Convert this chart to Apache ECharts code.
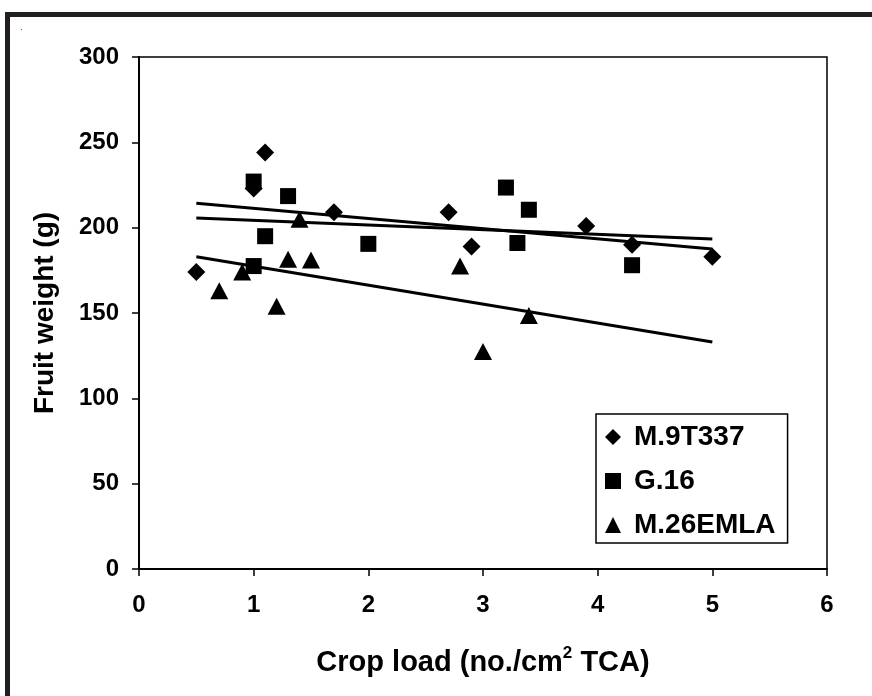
<!DOCTYPE html>
<html>
<head>
<meta charset="utf-8">
<script src="https://cdn.jsdelivr.net/npm/echarts@6/dist/echarts.min.js"></script>
<style>html,body{margin:0;padding:0;background:#fff}#c{width:872px;height:696px}</style>
</head>
<body>
<div id="c"></div>
<script>
// Data
var seriesNames = ['M.9T337', 'G.16', 'M.26EMLA'];
var m9X = [0.5, 1.0, 1.1, 1.7, 2.7, 2.9, 3.9, 4.3, 5.0];
var m9Y = [174, 223, 244, 209, 209, 189, 201, 190, 183];
var g16X = [1.0, 1.0, 1.1, 1.3, 2.0, 3.2, 3.3, 3.4, 4.3];
var g16Y = [227, 177.5, 195, 218.5, 190.5, 223.5, 191, 210.5, 178];
var m26X = [0.7, 0.9, 1.2, 1.3, 1.4, 1.5, 2.8, 3.0, 3.4];
var m26Y = [163, 174, 154, 181.5, 205, 181, 177.5, 127.5, 148.5];
// trend line end points (x range and fitted values)
var trendX = [0.5, 5.0];
var m9Trend = [214.3, 187.5];
var g16Trend = [205.7, 193.4];
var m26Trend = [183, 133];
var xTicks = [0, 1, 2, 3, 4, 5, 6];
var yTicks = [0, 50, 100, 150, 200, 250, 300];

function pairs(xs, ys) { return xs.map(function (x, i) { return [x, ys[i]]; }); }

var FONT = '"Liberation Sans", Arial, Helvetica, sans-serif';
var chart = echarts.init(document.getElementById('c'), null, { renderer: 'canvas' });

var lineStyle = { color: '#000', width: 3 };
function trend(vals) {
  return {
    type: 'line', data: pairs(trendX, vals), symbol: 'none', silent: true,
    lineStyle: lineStyle, z: 3, legendHoverLink: false
  };
}

chart.setOption({
  animation: false,
  backgroundColor: '#fff',
  textStyle: { fontFamily: FONT },
  grid: {
    left: 139, right: 45, top: 57, bottom: 127,
    containLabel: false, outerBoundsMode: 'none',
    show: true, borderColor: '#000', borderWidth: 1.5, backgroundColor: 'transparent'
  },
  legend: {
    data: seriesNames,
    orient: 'vertical',
    left: 596, top: 414,
    padding: [8, 12, 3, 9],
    itemGap: 14,
    itemWidth: 16, itemHeight: 16,
    symbolKeepAspect: true,
    borderColor: '#000', borderWidth: 1.5,
    backgroundColor: '#fff',
    textStyle: { fontFamily: FONT, fontSize: 28, fontWeight: 'bold', color: '#000', lineHeight: 30, padding: [0, 0, 0, 8] }
  },
  xAxis: {
    type: 'value', min: xTicks[0], max: xTicks[xTicks.length - 1], interval: 1,
    name: '{a|Crop load (no./cm}{s|2}{a| TCA)}',
    nameLocation: 'middle', nameGap: 76,
    nameTextStyle: {
      rich: {
        a: { fontFamily: FONT, fontSize: 29, fontWeight: 'bold', color: '#000', lineHeight: 32, verticalAlign: 'bottom' },
        s: { fontFamily: FONT, fontSize: 17, fontWeight: 'bold', color: '#000', lineHeight: 18, verticalAlign: 'top' }
      }
    },
    axisLine: { show: true, onZero: false, lineStyle: { color: '#000', width: 2 } },
    axisTick: { show: true, inside: false, length: 7, lineStyle: { color: '#000', width: 1.5 } },
    axisLabel: { margin: 24, fontFamily: FONT, fontSize: 24, fontWeight: 'bold', color: '#000' },
    splitLine: { show: false }
  },
  yAxis: {
    type: 'value', min: yTicks[0], max: yTicks[yTicks.length - 1], interval: 50,
    name: 'Fruit weight (g)',
    nameLocation: 'middle', nameGap: 80, nameRotate: 90,
    nameTextStyle: { fontFamily: FONT, fontSize: 28, fontWeight: 'bold', color: '#000' },
    axisLine: { show: true, onZero: false, lineStyle: { color: '#000', width: 2 } },
    axisTick: { show: true, inside: false, length: 7, lineStyle: { color: '#000', width: 1.5 } },
    axisLabel: { margin: 20, fontFamily: FONT, fontSize: 24, fontWeight: 'bold', color: '#000' },
    splitLine: { show: false }
  },
  series: [
    { name: seriesNames[0], type: 'scatter', symbol: 'diamond', symbolSize: [18, 18], data: pairs(m9X, m9Y), itemStyle: { color: '#000', opacity: 1 }, z: 2 },
    { name: seriesNames[1], type: 'scatter', symbol: 'rect', symbolSize: [16, 16], data: pairs(g16X, g16Y), itemStyle: { color: '#000', opacity: 1 }, z: 2 },
    { name: seriesNames[2], type: 'scatter', symbol: 'triangle', symbolSize: [18, 17], data: pairs(m26X, m26Y), itemStyle: { color: '#000', opacity: 1 }, z: 2 },
    trend(m9Trend), trend(g16Trend), trend(m26Trend)
  ],
  graphic: [
    { type: 'rect', shape: { x: 5, y: 12, width: 5, height: 684 }, style: { fill: '#231f20' }, silent: true },
    { type: 'rect', shape: { x: 5, y: 12, width: 867, height: 5 }, style: { fill: '#231f20' }, silent: true },
    { type: 'rect', shape: { x: 21, y: 29, width: 1, height: 1 }, style: { fill: '#666' }, silent: true }
  ]
});
</script>
</body>
</html>
